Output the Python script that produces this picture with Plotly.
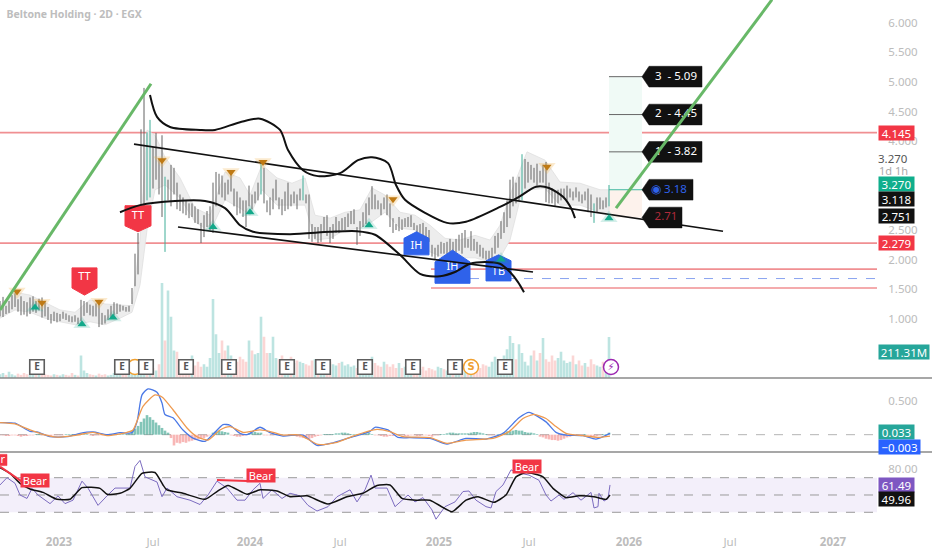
import plotly.graph_objects as go

TITLE = "Beltone Holding · 2D · EGX"
BAR_STEP = 3
FONT = "Noto Sans"

HIGH = [
 1.30,1.37,1.22,1.30,1.40,1.43,1.33,1.38,1.30,1.28,
 1.36,1.38,1.30,1.34,1.36,1.28,1.20,1.08,1.12,1.10,
 1.08,1.12,1.09,1.06,1.04,1.06,1.02,1.32,1.30,1.28,
 1.24,1.22,1.26,1.32,1.10,1.06,1.16,1.22,1.28,1.26,
 1.24,1.22,1.20,1.22,1.52,2.10,2.45,4.20,4.90,4.15,
 4.36,3.90,4.14,3.70,4.10,3.40,3.35,3.60,3.55,3.30,
 3.10,3.05,3.00,2.95,2.95,2.90,2.85,2.62,2.75,2.82,
 2.90,3.30,3.48,3.45,3.42,3.30,3.35,3.46,3.20,3.15,
 3.05,3.00,3.00,3.25,3.10,3.15,3.30,3.68,3.55,3.00,
 3.05,3.20,3.35,3.05,3.02,3.15,3.30,3.10,3.15,3.10,
 3.20,3.42,3.10,3.10,2.60,2.55,2.55,2.60,2.72,2.75,
 2.55,2.60,2.72,2.65,2.70,2.72,2.78,2.82,2.85,2.55,
 2.65,2.80,2.95,3.05,3.24,3.10,3.00,2.95,3.05,3.10,
 2.95,2.70,2.60,2.72,2.68,2.70,2.72,2.75,2.62,2.58,
 2.60,2.62,2.55,2.50,2.25,2.20,2.25,2.30,2.28,2.30,
 2.35,2.30,2.35,2.42,2.45,2.50,2.35,2.48,2.35,2.30,
 2.25,2.20,2.15,2.15,2.20,2.40,2.45,2.65,2.80,3.00,
 3.35,3.40,3.30,3.40,3.78,3.70,3.65,3.60,3.55,3.62,
 3.50,3.60,3.65,3.30,3.20,3.15,3.18,3.20,3.20,3.25,
 3.20,3.15,3.22,3.15,3.10,3.15,3.20,3.10,2.95,3.05,
 3.05,3.00,3.05,3.26,
]
LOW = [
 1.04,1.03,1.08,1.10,1.16,1.20,1.12,1.06,1.07,1.04,
 1.08,1.12,1.10,1.14,1.02,1.04,0.98,0.92,0.96,0.94,
 0.96,1.00,0.98,0.95,0.94,0.95,0.91,0.96,1.05,1.10,
 1.06,1.04,1.04,0.86,0.90,0.92,0.98,1.02,1.06,1.08,
 1.12,1.14,1.12,1.12,1.25,1.55,1.75,2.60,2.90,3.00,
 3.05,3.20,3.35,3.10,2.72,2.13,3.00,2.90,3.10,2.85,
 2.82,2.78,2.75,2.70,2.72,2.62,2.60,2.28,2.38,2.55,
 2.50,2.45,2.90,3.10,3.05,3.00,3.10,3.15,2.90,2.75,
 2.78,2.72,2.55,2.90,2.85,2.95,3.00,3.10,2.95,2.80,
 2.75,2.85,3.00,2.85,2.75,2.82,2.85,2.90,2.95,2.85,
 3.00,3.00,2.95,2.35,2.30,2.35,2.28,2.30,2.45,2.40,
 2.28,2.35,2.45,2.45,2.50,2.50,2.55,2.60,2.60,2.25,
 2.40,2.55,2.60,2.75,2.85,2.85,2.85,2.75,2.85,2.75,
 2.55,2.45,2.50,2.48,2.50,2.55,2.55,2.55,2.50,2.45,
 2.45,2.40,2.35,2.30,2.05,2.00,2.05,2.10,2.10,2.08,
 2.10,2.10,2.12,2.15,2.10,2.20,2.20,2.15,2.15,2.10,
 2.05,2.02,2.00,2.00,2.02,2.10,2.20,2.35,2.45,2.55,
 2.70,2.90,2.95,3.00,3.00,3.20,3.30,3.35,3.30,3.25,
 3.30,3.30,2.97,2.95,2.95,2.90,2.95,3.00,3.05,3.00,
 3.05,3.00,3.05,2.98,2.95,3.00,2.80,2.72,2.62,2.80,
 2.85,2.85,2.88,2.90,
]
TEAL_BARS = [49, 50, 55, 87, 101, 174, 198, 203]

VOLUME = [
 30,40,25,50,30,20,35,25,40,30,
 25,30,45,60,35,30,25,20,30,25,
 20,30,25,20,40,25,20,180,60,40,
 30,25,20,35,25,30,20,25,40,30,
 35,30,25,70,60,90,50,110,60,80,
 70,80,60,110,760,300,700,490,220,210,
 150,120,140,110,180,100,130,90,110,90,
 160,632,350,200,300,220,260,180,150,130,
 170,150,130,300,220,190,200,490,330,200,
 200,330,160,150,180,130,150,170,120,140,
 130,120,110,100,140,150,130,90,120,100,
 130,110,100,120,130,100,110,90,100,80,
 100,90,130,110,170,120,100,90,130,110,
 90,110,80,120,80,90,110,100,90,80,
 70,90,60,80,70,60,90,80,70,60,
 60,70,80,60,90,60,70,80,60,70,
 80,110,100,90,130,170,150,130,180,230,
 336,280,150,270,200,130,100,180,220,140,
 200,320,150,130,180,140,160,210,140,120,
 130,180,110,140,100,120,90,150,110,100,
 90,130,100,328,
]
MACD_HIST = [
 -.01,-.01,-.02,-.02,-.01,-.01,-.02,-.03,-.02,-.02,
 -.01,-.01,.01,.01,-.01,-.01,-.02,-.02,-.01,-.01,
 -.01,-.01,.01,.01,.01,.01,.01,.02,.01,.01,
 -.01,-.02,-.01,-.01,-.01,.01,.01,.01,.01,.01,
 .01,.01,.01,.02,.06,.09,.13,.19,.24,.29,
 .26,.22,.18,.14,.10,.06,.03,-.05,-.16,-.12,
 -.13,-.11,-.12,-.10,-.09,-.08,-.07,-.06,-.05,-.03,
 -.01,.03,.05,.06,.05,.04,.03,-.01,-.02,-.03,
 -.03,-.02,-.01,.02,.03,.04,.03,.03,-.01,-.01,
 -.01,-.01,.01,.01,.01,-.01,-.01,-.01,-.01,-.03,
 -.04,-.05,-.06,-.07,-.05,-.03,-.02,-.01,.01,.01,
 .01,.01,.02,.02,.03,.03,.02,.01,.01,.01,
 .01,.01,.02,.03,.01,-.01,-.01,-.02,-.03,-.03,
 -.02,-.02,-.01,-.01,-.01,-.02,-.02,-.01,-.01,-.02,
 -.02,-.01,-.01,-.02,-.03,-.01,-.01,.01,.01,.02,
 .03,.03,.02,.02,.02,.02,.02,.03,.04,.04,
 .03,.02,.01,-.01,-.01,-.01,.01,.01,.03,.05,
 .05,.06,.07,.06,.06,.04,.03,.03,.02,.01,
 -.03,-.04,-.06,-.07,-.08,-.08,-.09,-.08,-.06,-.04,
 -.03,-.02,-.01,-.01,-.01,.01,-.01,-.02,-.03,-.02,
 -.01,.01,.01,.03,
]

BAND_X = [0,15,30,45,60,75,90,105,120,132,140,147,155,165,180,195,210,225,240,250,262,277,292,305,315,330,345,360,372,385,400,415,430,445,460,475,490,500,510,520,527,545,560,580,600,609]
BAND_UP = [1.23,1.45,1.40,1.28,1.15,1.11,1.32,1.25,1.23,1.22,2.33,4.19,4.10,3.73,3.38,2.87,2.75,3.48,3.38,3.09,3.60,3.38,3.29,3.38,2.75,2.70,2.80,2.84,3.21,3.09,2.80,2.75,2.58,2.36,2.33,2.41,2.33,2.58,3.09,3.51,3.82,3.68,3.31,3.29,3.18,3.18]
BAND_LO = [1.01,1.15,1.11,1.01,0.95,0.90,0.95,0.90,1.01,1.11,1.57,2.50,3.18,3.26,3.04,2.64,2.47,3.01,2.87,2.75,3.18,2.92,2.92,2.92,2.33,2.36,2.50,2.53,2.64,2.80,2.53,2.50,2.13,2.03,2.03,2.03,1.96,2.03,2.33,3.01,3.18,3.20,2.92,2.92,2.80,2.80]

CURVE1_X = [150,157,170,200,215,240,260,280,288,303,318,340,358,372,388,396,405,425,447,466,500,519,536,549,563,571,575]
CURVE1_Y = [4.78,4.41,4.24,4.19,4.19,4.32,4.38,4.19,3.85,3.51,3.41,3.46,3.68,3.73,3.63,3.26,3.01,2.79,2.62,2.64,2.89,3.06,3.23,3.21,3.06,2.87,2.70]
CURVE2_X = [120,140,175,205,225,240,253,290,330,357,375,400,420,440,455,470,485,500,510,518,524]
CURVE2_Y = [2.80,2.92,2.99,2.99,2.87,2.58,2.47,2.43,2.47,2.48,2.42,2.08,1.76,1.72,1.79,1.93,1.96,1.93,1.79,1.62,1.45]

CHANNEL_X = [[134,723],[178,533]]
CHANNEL_Y = [[3.95,2.48],[2.55,1.79]]
TREND_X = [[0,151],[616,772]]
TREND_Y = [[1.15,4.97],[2.87,6.39]]

RED_LEVELS = [4.145,2.279,1.84,1.52]
RED_START = [0,0,431,431]
BLUE_LEVEL = 1.68

TARGET_LEVELS = [5.09,4.45,3.82]
TARGET_TEXT = ["3  - 5.09","2  - 4.45","1  - 3.82"]
ENTRY = 3.18
STOP = 2.71

TRI_UP_X = [35,82,113,213,250,369,501,609]
TRI_UP_Y = [1.19,0.91,1.02,2.55,2.80,2.58,2.00,2.70]
TRI_DN_X = [17,42,99,162,231,263,393,547]
TRI_DN_Y = [1.46,1.27,1.29,3.68,3.48,3.65,3.02,3.57]

EARN_X = [37,122,146,186,229,287,323,365,413,455,505]
EVENT_LEVEL = 88

MACD_X = [0,15,30,37,50,67,80,93,107,120,132,137,142,148,157,162,165,173,183,193,205,213,223,230,240,248,260,270,283,303,317,333,353,370,375,388,398,410,430,447,466,486,503,519,529,546,556,566,583,596,610]
MACD_Y = [.18,.17,.05,.04,-.03,-.03,.02,.04,0,.03,.03,.19,.59,.68,.63,.47,.30,.25,.07,-.05,-.10,.005,.15,.14,.02,.005,.11,.03,-.02,-.005,-.16,-.12,-.03,.05,.11,.07,-.04,-.045,-.055,-.14,-.055,-.065,.02,.25,.33,.19,.035,-.005,-.015,-.065,.02]
SIGNAL_X = [0,15,30,43,57,77,93,107,127,133,143,155,162,173,187,197,208,220,230,243,260,273,283,300,318,337,353,377,390,403,430,447,466,493,509,523,534,546,556,566,583,598,610]
SIGNAL_Y = [.18,.16,.07,.005,-.035,-.005,.035,-.015,.035,.07,.42,.59,.56,.37,.10,-.03,-.08,.07,.12,.035,.07,.035,-.005,-.005,-.145,-.115,-.02,.08,.045,-.03,-.045,-.13,-.08,-.055,.045,.24,.30,.24,.12,.02,-.015,-.04,-.02]

RSI_X = [0,7,15,20,27,32,38,50,58,65,73,82,88,98,107,115,130,135,140,145,157,162,167,177,190,200,208,217,227,237,245,253,260,263,272,282,290,300,308,317,328,337,350,357,365,371,375,387,395,408,415,423,432,436,445,455,463,469,476,486,491,496,503,511,521,529,539,546,551,559,564,573,581,591,594,598,599,604,608,610]
RSI_Y = [61.6,70,63.5,50,46,57.7,50,40,49,40,44,66,58,38,49,58,58,83,90,71,65,48,58,48,44,39,50,66,58,44,44,56,63.5,46,56,46,52,49,38,31.5,36.5,48,56,42,56,73,58,58,36.5,50,42,47,32.7,22,36.5,42,54,54.6,44,36.5,35,54,61.6,79,75,73,67,50,43,50,45,52.7,44,53,35,36.5,52,43,46,61.6]
RSI_MA_X = [0,10,20,30,43,57,70,82,100,107,120,130,142,155,163,167,183,205,217,228,247,260,277,290,307,328,347,363,377,390,402,417,430,452,466,478,494,506,516,526,543,553,566,579,594,606,610]
RSI_MA_Y = [81.6,75,63.5,57,53,45,45,58.5,57.7,50.8,52,57.7,75,76,61.6,55.8,52,45,54,61,50.8,56,54.6,48,49,39.6,48,52,61,61.6,46,44,44,30.7,44,48,41.5,50,71,76,71,57.7,47,49,48,45,50]

BEAR_X = [[0,22],[217,247]]
BEAR_Y = [[82.8,65.4],[67.3,66.2]]

TICK_POS = [59,153,250,340,439,529,629,730,833]
TICK_TEXT = ["<b>2023</b>","Jul","<b>2024</b>","Jul","<b>2025</b>","Jul","<b>2026</b>","Jul","<b>2027</b>"]
PRICE_TICKS = [1,1.5,2,2.5,4,4.5,5,5.5,6]

GRAY_TXT = "#bcbcbc"
RED = "#f23645"
BLUE = "#2f62ea"
TEAL = "#12a98a"
BLACK = "#111111"

fig = go.Figure()
bar_x = [i * BAR_STEP for i in range(len(HIGH))]

# ---- price pane -------------------------------------------------------------
fig.add_trace(go.Scatter(x=BAND_X + BAND_X[::-1], y=BAND_UP + BAND_LO[::-1], fill="toself",
                         fillcolor="#ededed", line=dict(color="#e0e0e0", width=0.8), mode="lines", hoverinfo="skip"))

gx, gy, tx, ty = [], [], [], []
for i, (xv, h, l) in enumerate(zip(bar_x, HIGH, LOW)):
    (tx if i in TEAL_BARS else gx).extend([xv, xv, None])
    (ty if i in TEAL_BARS else gy).extend([l, h, None])
fig.add_trace(go.Scatter(x=gx, y=gy, mode="lines", line=dict(color="#626262", width=1.0), hoverinfo="skip"))
fig.add_trace(go.Scatter(x=tx, y=ty, mode="lines", line=dict(color="#3fae98", width=1.0), hoverinfo="skip"))

mids = [(h + l) / 2 for h, l in zip(HIGH, LOW)]
vol_cols = ["rgba(38,166,154,.30)" if i == 0 or mids[i] >= mids[i - 1] else "rgba(239,83,80,.24)" for i in range(len(mids))]
fig.add_trace(go.Bar(x=bar_x, y=VOLUME, marker=dict(color=vol_cols, line_width=0), width=2.6, yaxis="y2", hoverinfo="skip"))


def callout(xc, half, top, bottom, tip, color, text, text_y):
    if tip > top:
        xs = [xc - half, xc - half, xc, xc + half, xc + half, xc - half]
        ys = [bottom, top, tip, top, bottom, bottom]
    else:
        xs = [xc - half, xc - half, xc + half, xc + half, xc, xc - half]
        ys = [bottom, top, top, bottom, tip, bottom]
    fig.add_trace(go.Scatter(x=xs, y=ys, fill="toself", fillcolor=color, mode="lines", line=dict(color=color, width=1), hoverinfo="skip"))
    fig.add_trace(go.Scatter(x=[xc], y=[text_y], mode="text", text=[text], textfont=dict(color="white", size=11, family=FONT), hoverinfo="skip"))


callout(84.5, 12.5, 1.86, 1.52, 1.40, RED, "TT", 1.70)
callout(138, 13, 2.91, 2.57, 2.47, RED, "TT", 2.74)
callout(416.5, 12.5, 2.36, 2.08, 2.47, BLUE, "IH", 2.22)
callout(452.5, 17.5, 1.96, 1.60, 2.16, BLUE, "IH", 1.87)
callout(498.5, 12.5, 1.98, 1.64, 2.08, BLUE, "TB", 1.79)

for cx, cy in zip(CHANNEL_X, CHANNEL_Y):
    fig.add_trace(go.Scatter(x=cx, y=cy, mode="lines", line=dict(color=BLACK, width=1.6), hoverinfo="skip"))
for cx, cy in [(CURVE1_X, CURVE1_Y), (CURVE2_X, CURVE2_Y)]:
    fig.add_trace(go.Scatter(x=cx, y=cy, mode="lines", line=dict(color=BLACK, width=2, shape="spline", smoothing=0.8), hoverinfo="skip"))

# signal triangles, halo then glyph
fig.add_trace(go.Scatter(x=TRI_UP_X, y=TRI_UP_Y, mode="markers", marker=dict(symbol="triangle-up", size=15, color="rgba(18,169,138,.18)"), hoverinfo="skip"))
fig.add_trace(go.Scatter(x=TRI_UP_X, y=TRI_UP_Y, mode="markers", marker=dict(symbol="triangle-up", size=8, color=TEAL), hoverinfo="skip"))
fig.add_trace(go.Scatter(x=TRI_DN_X, y=TRI_DN_Y, mode="markers", marker=dict(symbol="triangle-down", size=15, color="rgba(240,170,60,.25)"), hoverinfo="skip"))
fig.add_trace(go.Scatter(x=TRI_DN_X, y=TRI_DN_Y, mode="markers", marker=dict(symbol="triangle-down", size=8, color="#bf7a14"), hoverinfo="skip"))

# trade target stubs
for lv in TARGET_LEVELS:
    fig.add_trace(go.Scatter(x=[609, 643], y=[lv, lv], mode="lines", line=dict(color="#666666", width=1), hoverinfo="skip"))
fig.add_trace(go.Scatter(x=[609, 643], y=[ENTRY, ENTRY], mode="lines", line=dict(color="#3fb8a0", width=1), hoverinfo="skip"))


def tag(x1, level, text, color, xtext):
    h = 0.175
    xs = [642, 649, x1, x1, 649, 642]
    ys = [level, level + h, level + h, level - h, level - h, level]
    fig.add_trace(go.Scatter(x=xs, y=ys, fill="toself", fillcolor=BLACK, mode="lines", line=dict(color=BLACK, width=0.5), hoverinfo="skip"))
    fig.add_trace(go.Scatter(x=[xtext], y=[level], mode="text", text=[text], textfont=dict(color=color, size=11.5, family=FONT), hoverinfo="skip"))


for lv, t in zip(TARGET_LEVELS, TARGET_TEXT):
    tag(702, lv, t, "white", 676)
tag(693, ENTRY, "◉ 3.18", "#2f62ea", 669)
tag(682, STOP, "2.71", "#b02a3a", 666)

for cx, cy in zip(TREND_X, TREND_Y):
    fig.add_trace(go.Scatter(x=cx, y=cy, mode="lines", line=dict(color="#68b868", width=3), hoverinfo="skip"))

# event badges sit on the volume axis
fig.add_trace(go.Scatter(x=[135, 471, 611], y=[EVENT_LEVEL] * 3, yaxis="y2", mode="markers+text",
                         text=["", "<b>S</b>", "⚡"], textfont=dict(size=10, color=["#f0a030", "#f0a030", "#9c27b0"], family="DejaVu Sans"),
                         marker=dict(symbol="circle", size=15, color="white", line=dict(width=1.5, color=["#f0a030", "#f0a030", "#9c27b0"])), hoverinfo="skip"))
fig.add_trace(go.Scatter(x=EARN_X, y=[EVENT_LEVEL] * len(EARN_X), yaxis="y2", mode="markers+text",
                         text=["<b>E</b>"] * len(EARN_X), textfont=dict(size=10, color="#555555", family=FONT),
                         marker=dict(symbol="square", size=14.5, color="white", line=dict(width=1.6, color="#5e5e5e")), hoverinfo="skip"))

# ---- MACD pane --------------------------------------------------------------
hist_cols = ["rgba(30,150,125,.55)" if v >= 0 else "rgba(239,83,80,.42)" for v in MACD_HIST]
fig.add_trace(go.Bar(x=bar_x, y=MACD_HIST, marker=dict(color=hist_cols, line_width=0), width=2.6, yaxis="y3", hoverinfo="skip"))
fig.add_trace(go.Scatter(x=MACD_X, y=MACD_Y, yaxis="y3", mode="lines", line=dict(color="#4a78e6", width=1.3, shape="spline", smoothing=0.6), hoverinfo="skip"))
fig.add_trace(go.Scatter(x=SIGNAL_X, y=SIGNAL_Y, yaxis="y3", mode="lines", line=dict(color="#ee9a50", width=1.3, shape="spline", smoothing=0.6), hoverinfo="skip"))

# ---- RSI pane ---------------------------------------------------------------
fig.add_trace(go.Scatter(x=RSI_X, y=RSI_Y, yaxis="y4", mode="lines", line=dict(color="#7c6cc0", width=1), hoverinfo="skip"))
fig.add_trace(go.Scatter(x=RSI_MA_X, y=RSI_MA_Y, yaxis="y4", mode="lines", line=dict(color=BLACK, width=1.5, shape="spline", smoothing=0.5), hoverinfo="skip"))
for cx, cy in zip(BEAR_X, BEAR_Y):
    fig.add_trace(go.Scatter(x=cx, y=cy, yaxis="y4", mode="lines", line=dict(color=RED, width=2), hoverinfo="skip"))

# Bear tag running off the left edge, clipped by the axis
fig.add_trace(go.Scatter(x=[-21, 7, 7, -21, -21], y=[97, 97, 84, 84, 97], yaxis="y4", mode="lines", fill="toself", fillcolor=RED,
                         line=dict(color=RED, width=0.5), hoverinfo="skip"))
fig.add_trace(go.Scatter(x=[-7], y=[90.5], yaxis="y4", mode="text", text=["Bear"], textfont=dict(color="white", size=11, family=FONT), hoverinfo="skip"))

# ---- shapes -----------------------------------------------------------------
shapes = []
for lv, x0 in zip(RED_LEVELS, RED_START):
    shapes.append(dict(type="line", xref="x", yref="y", x0=x0, x1=877, y0=lv, y1=lv, line=dict(color="#f08f92", width=1.7), layer="below"))
shapes.append(dict(type="line", xref="x", yref="y", x0=470, x1=877, y0=BLUE_LEVEL, y1=BLUE_LEVEL, line=dict(color="#8aa4f0", width=1, dash="dash"), layer="below"))
shapes.append(dict(type="rect", xref="x", yref="y", x0=609, x1=642, y0=ENTRY, y1=TARGET_LEVELS[0], fillcolor="#f0faf6", line_width=0, layer="below"))
shapes.append(dict(type="rect", xref="x", yref="y", x0=609, x1=642, y0=STOP, y1=ENTRY, fillcolor="#fdf2ec", line_width=0, layer="below"))
shapes.append(dict(type="line", xref="x", yref="y3", x0=0, x1=877, y0=0, y1=0, line=dict(color="#b5b5b5", width=1, dash="dash"), layer="below"))
shapes.append(dict(type="rect", xref="x", yref="y4", x0=0, x1=877, y0=30, y1=70, fillcolor="#f3effa", line_width=0, layer="below"))
for lv in [70, 50, 30]:
    shapes.append(dict(type="line", xref="x", yref="y4", x0=0, x1=877, y0=lv, y1=lv, line=dict(color="#9a9a9a", width=1, dash="dash"), layer="below"))
for py in [(527 - 378) / 527, (527 - 452) / 527]:
    shapes.append(dict(type="line", xref="paper", yref="paper", x0=0, x1=932 / 877, y0=py, y1=py, line=dict(color="#8a8a8a", width=1.5)))

# ---- annotations ------------------------------------------------------------
anns = []


def axis_tag(text, y, yref, bg, width=35, fg="white"):
    anns.append(dict(xref="paper", yref=yref, x=878 / 877, y=y, xanchor="left", yanchor="middle", text=text, showarrow=False,
                     width=width, height=14, bgcolor=bg, borderpad=0, align="center",
                     font=dict(color=fg, size=11.5, family=FONT)))


axis_tag("4.145", 4.145, "y", RED)
axis_tag("2.279", 2.279, "y", RED)
axis_tag("3.270", 3.27, "y", "#0fae8c")
axis_tag("3.118", 3.02, "y", BLACK)
axis_tag("2.751", 2.74, "y", BLACK)
axis_tag("211.31M", 0.44, "y", "#26a69a", width=50)
axis_tag("0.033", 0.04, "y3", "#26a69a")
axis_tag("−0.003", -0.18, "y3", "#2962ff", width=41)
axis_tag("61.49", 61.5, "y4", "#7e57c2")
axis_tag("49.96", 45.4, "y4", BLACK)

anns.append(dict(xref="paper", yref="y", x=910 / 877, y=3.70, xanchor="right", text="3.270", showarrow=False, font=dict(color="#555555", size=11.5, family=FONT)))
anns.append(dict(xref="paper", yref="y", x=910 / 877, y=3.50, xanchor="right", text="1d 1h", showarrow=False, font=dict(color="#aaaaaa", size=11, family=FONT)))


def bear(x, yval):
    anns.append(dict(xref="x", yref="y4", x=x, y=yval, text="Bear", showarrow=False, bgcolor=RED, width=28, height=13, borderpad=0,
                     font=dict(color="white", size=11, family=FONT)))


bear(35, 66.5)
bear(261, 72)
bear(527, 83)

# ---- layout -----------------------------------------------------------------
axis_common = dict(showgrid=False, zeroline=False, showline=False, side="right", anchor="x", ticks="outside", ticklen=8,
                   tickcolor="rgba(0,0,0,0)", tickfont=dict(color=GRAY_TXT, size=11.5, family=FONT))
fig.update_layout(
    width=932, height=550, autosize=False, showlegend=False, plot_bgcolor="white", paper_bgcolor="white", barmode="overlay",
    margin=dict(l=0, r=55, t=0, b=23),
    title=dict(text="<b>" + TITLE + "</b>", x=0.007, y=0.974, xanchor="left", yanchor="middle", font=dict(color="#bdbdbd", size=10.5, family=FONT)),
    xaxis=dict(range=[0, 877], domain=[0, 1], anchor="y4", showgrid=False, zeroline=False, showline=False, tickmode="array",
               tickvals=TICK_POS, ticktext=TICK_TEXT, ticks="outside", ticklen=4, tickcolor="rgba(0,0,0,0)",
               tickfont=dict(color=GRAY_TXT, size=11.5, family=FONT)),
    yaxis=dict(domain=[(527 - 378) / 527, 1], range=[0, 6.385], tickmode="array", tickvals=PRICE_TICKS,
               ticktext=[f"{v:.3f}" for v in PRICE_TICKS], **axis_common),
    yaxis2=dict(domain=[(527 - 378) / 527, 1], range=[0, 3024], overlaying="y", visible=False, anchor="x"),
    yaxis3=dict(domain=[(527 - 452) / 527, (527 - 378) / 527], range=[-0.257, 0.841], tickmode="array", tickvals=[0.5], ticktext=["0.500"], **axis_common),
    yaxis4=dict(domain=[0, (527 - 452) / 527], range=[13, 99.7], tickmode="array", tickvals=[80], ticktext=["80.00"], **axis_common),
    shapes=shapes, annotations=anns,
)

fig.write_html("out.html", config=dict(displayModeBar=False),
               post_script="document.body.style.margin='0';document.documentElement.style.overflow='hidden';")
